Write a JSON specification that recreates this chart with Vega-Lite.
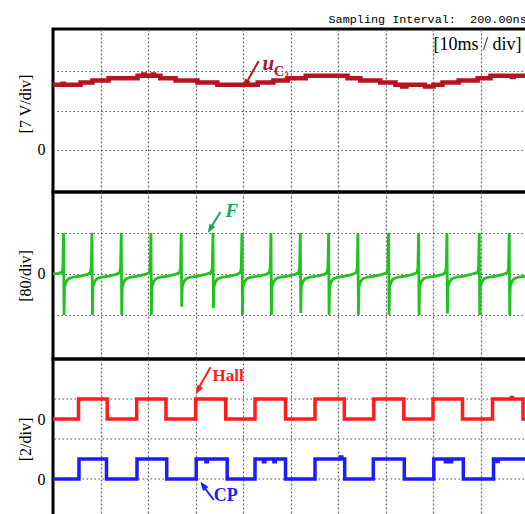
{
  "$schema": "https://vega.github.io/schema/vega-lite/v6.json",
  "padding": {"left": 15, "top": 12, "right": 0, "bottom": 0},
  "background": "white",
  "spacing": 0,
  "bounds": "flush",
  "config": {
    "view": {"stroke": "black", "strokeWidth": 3},
    "font": "Liberation Serif",
    "axis": {
      "minExtent": 0,
      "labelFont": "Liberation Serif",
      "labelFontSize": 16,
      "labelColor": "black",
      "labelPadding": 8,
      "ticks": false,
      "domain": false,
      "titleFont": "Liberation Serif",
      "titleFontSize": 16,
      "titleFontWeight": "normal",
      "titleColor": "black",
      "titlePadding": 4,
      "gridColor": "#555",
      "gridWidth": 1.2,
      "gridDash": [1.5, 2.5]
    }
  },
  "datasets": {
    "uc2": [
      {"t": 0, "v": 11.57}, {"t": 2.0, "v": 11.75}, {"t": 2.3, "v": 11.57},
      {"t": 5.8, "v": 11.98}, {"t": 8.3, "v": 12.33}, {"t": 11.7, "v": 12.76},
      {"t": 17.8, "v": 13.17}, {"t": 19.0, "v": 13.42}, {"t": 19.3, "v": 13.17},
      {"t": 21.0, "v": 13.4}, {"t": 21.3, "v": 13.17}, {"t": 22.6, "v": 12.76},
      {"t": 25.8, "v": 12.33}, {"t": 30.4, "v": 11.98}, {"t": 34.6, "v": 11.57},
      {"t": 43.1, "v": 11.98}, {"t": 46.4, "v": 12.33}, {"t": 49.4, "v": 12.76},
      {"t": 53.2, "v": 13.17}, {"t": 62.0, "v": 12.76}, {"t": 64.7, "v": 12.33},
      {"t": 68.9, "v": 11.98}, {"t": 72.1, "v": 11.57}, {"t": 73.5, "v": 11.27},
      {"t": 74.4, "v": 11.57}, {"t": 78.3, "v": 11.27}, {"t": 80.1, "v": 11.57},
      {"t": 82.0, "v": 11.98}, {"t": 85.4, "v": 12.33}, {"t": 89.4, "v": 12.76},
      {"t": 92.1, "v": 13.17}, {"t": 96.6, "v": 12.95}, {"t": 97.0, "v": 13.17},
      {"t": 100, "v": 13.17}
    ],
    "force": [
      {"t": 0, "v": 0}, {"t": 1.2, "v": 1},
      {"t": 1.87, "v": 3}, {"t": 2.07, "v": 12}, {"t": 2.22, "v": 80}, {"t": 2.32, "v": -80}, {"t": 2.42, "v": -25}, {"t": 2.77, "v": -15}, {"t": 3.27, "v": -9}, {"t": 4.27, "v": -6}, {"t": 5.77, "v": -4}, {"t": 7.27, "v": -1},
      {"t": 7.85, "v": 3}, {"t": 8.05, "v": 12}, {"t": 8.20, "v": 80}, {"t": 8.30, "v": -80}, {"t": 8.40, "v": -25}, {"t": 8.75, "v": -15}, {"t": 9.25, "v": -9}, {"t": 10.25, "v": -6}, {"t": 11.75, "v": -4}, {"t": 13.25, "v": -1},
      {"t": 14.02, "v": 3}, {"t": 14.22, "v": 12}, {"t": 14.37, "v": 80}, {"t": 14.47, "v": -80}, {"t": 14.57, "v": -25}, {"t": 14.92, "v": -15}, {"t": 15.42, "v": -9}, {"t": 16.42, "v": -6}, {"t": 17.92, "v": -4}, {"t": 19.42, "v": -1},
      {"t": 20.27, "v": 3}, {"t": 20.47, "v": 12}, {"t": 20.62, "v": 80}, {"t": 20.72, "v": -80}, {"t": 20.82, "v": -25}, {"t": 21.17, "v": -15}, {"t": 21.67, "v": -9}, {"t": 22.67, "v": -6}, {"t": 24.17, "v": -4}, {"t": 25.67, "v": -1},
      {"t": 26.65, "v": 3}, {"t": 26.85, "v": 12}, {"t": 27.00, "v": 80}, {"t": 27.10, "v": -64}, {"t": 27.20, "v": -25}, {"t": 27.55, "v": -15}, {"t": 28.05, "v": -9}, {"t": 29.05, "v": -6}, {"t": 30.55, "v": -4}, {"t": 32.05, "v": -1},
      {"t": 33.33, "v": 3}, {"t": 33.53, "v": 12}, {"t": 33.68, "v": 80}, {"t": 33.78, "v": -67}, {"t": 33.88, "v": -25}, {"t": 34.23, "v": -15}, {"t": 34.73, "v": -9}, {"t": 35.73, "v": -6}, {"t": 37.23, "v": -4}, {"t": 38.73, "v": -1},
      {"t": 39.43, "v": 3}, {"t": 39.63, "v": 12}, {"t": 39.78, "v": 80}, {"t": 39.88, "v": -80}, {"t": 39.98, "v": -25}, {"t": 40.33, "v": -15}, {"t": 40.83, "v": -9}, {"t": 41.83, "v": -6}, {"t": 43.33, "v": -4}, {"t": 44.83, "v": -1},
      {"t": 45.54, "v": 3}, {"t": 45.74, "v": 12}, {"t": 45.89, "v": 80}, {"t": 45.99, "v": -80}, {"t": 46.09, "v": -25}, {"t": 46.44, "v": -15}, {"t": 46.94, "v": -9}, {"t": 47.94, "v": -6}, {"t": 49.44, "v": -4}, {"t": 50.94, "v": -1},
      {"t": 51.71, "v": 3}, {"t": 51.91, "v": 12}, {"t": 52.06, "v": 80}, {"t": 52.16, "v": -76}, {"t": 52.26, "v": -25}, {"t": 52.61, "v": -15}, {"t": 53.11, "v": -9}, {"t": 54.11, "v": -6}, {"t": 55.61, "v": -4}, {"t": 57.11, "v": -1},
      {"t": 57.67, "v": 3}, {"t": 57.87, "v": 12}, {"t": 58.02, "v": 80}, {"t": 58.12, "v": -80}, {"t": 58.22, "v": -25}, {"t": 58.57, "v": -15}, {"t": 59.07, "v": -9}, {"t": 60.07, "v": -6}, {"t": 61.57, "v": -4}, {"t": 63.07, "v": -1},
      {"t": 63.85, "v": 3}, {"t": 64.05, "v": 12}, {"t": 64.20, "v": 80}, {"t": 64.30, "v": -80}, {"t": 64.40, "v": -25}, {"t": 64.75, "v": -15}, {"t": 65.25, "v": -9}, {"t": 66.25, "v": -6}, {"t": 67.75, "v": -4}, {"t": 69.25, "v": -1},
      {"t": 70.30, "v": 3}, {"t": 70.50, "v": 12}, {"t": 70.65, "v": 80}, {"t": 70.75, "v": -80}, {"t": 70.85, "v": -25}, {"t": 71.20, "v": -15}, {"t": 71.70, "v": -9}, {"t": 72.70, "v": -6}, {"t": 74.20, "v": -4}, {"t": 75.70, "v": -1},
      {"t": 76.62, "v": 3}, {"t": 76.82, "v": 12}, {"t": 76.97, "v": 80}, {"t": 77.07, "v": -80}, {"t": 77.17, "v": -25}, {"t": 77.52, "v": -15}, {"t": 78.02, "v": -9}, {"t": 79.02, "v": -6}, {"t": 80.52, "v": -4}, {"t": 82.02, "v": -1},
      {"t": 82.59, "v": 3}, {"t": 82.79, "v": 12}, {"t": 82.94, "v": 80}, {"t": 83.04, "v": -77}, {"t": 83.14, "v": -25}, {"t": 83.49, "v": -15}, {"t": 83.99, "v": -9}, {"t": 84.99, "v": -6}, {"t": 86.49, "v": -4}, {"t": 87.99, "v": -1},
      {"t": 89.39, "v": 3}, {"t": 89.59, "v": 12}, {"t": 89.74, "v": 80}, {"t": 89.84, "v": -80}, {"t": 89.94, "v": -25}, {"t": 90.29, "v": -15}, {"t": 90.79, "v": -9}, {"t": 91.79, "v": -6}, {"t": 93.29, "v": -4}, {"t": 94.79, "v": -1},
      {"t": 95.70, "v": 3}, {"t": 95.90, "v": 12}, {"t": 96.05, "v": 80}, {"t": 96.15, "v": -80}, {"t": 96.25, "v": -25}, {"t": 96.60, "v": -15}, {"t": 97.10, "v": -9}, {"t": 98.10, "v": -6}, {"t": 99.60, "v": -4}, {"t": 100, "v": -3}
    ],
    "hall": [
      {"t": 0, "v": 0}, {"t": 5.37, "v": 1}, {"t": 11.41, "v": 0}, {"t": 17.62, "v": 1},
      {"t": 23.79, "v": 0}, {"t": 30.04, "v": 1}, {"t": 36.36, "v": 0}, {"t": 42.53, "v": 1},
      {"t": 48.95, "v": 0}, {"t": 55.16, "v": 1}, {"t": 61.33, "v": 0}, {"t": 67.54, "v": 1},
      {"t": 73.85, "v": 0}, {"t": 80.0, "v": 1}, {"t": 86.21, "v": 0}, {"t": 92.53, "v": 1},
      {"t": 96.5, "v": 1.08}, {"t": 96.7, "v": 1}, {"t": 98.95, "v": 0}, {"t": 100, "v": 0}
    ],
    "cp": [
      {"t": 0, "v": 0}, {"t": 5.47, "v": 1}, {"t": 11.26, "v": 0}, {"t": 17.68, "v": 1},
      {"t": 23.94, "v": 0}, {"t": 30.15, "v": 1}, {"t": 32.2, "v": 0.86}, {"t": 32.5, "v": 1},
      {"t": 36.67, "v": 0}, {"t": 42.53, "v": 1}, {"t": 44.3, "v": 0.86}, {"t": 44.6, "v": 1},
      {"t": 46.5, "v": 0.86}, {"t": 46.8, "v": 1}, {"t": 48.95, "v": 0}, {"t": 55.16, "v": 1},
      {"t": 60.6, "v": 1.1}, {"t": 60.8, "v": 1}, {"t": 61.41, "v": 0}, {"t": 67.43, "v": 1},
      {"t": 73.96, "v": 0}, {"t": 80.17, "v": 1}, {"t": 82.6, "v": 0.86}, {"t": 82.9, "v": 1},
      {"t": 83.6, "v": 0.86}, {"t": 83.9, "v": 1}, {"t": 86.38, "v": 0}, {"t": 92.74, "v": 1},
      {"t": 93.5, "v": 0.88}, {"t": 93.7, "v": 1}, {"t": 100, "v": 1}
    ]
  },
  "vconcat": [
    {
      "width": 475,
      "height": 163,
      "title": {
        "text": "Sampling Interval:\u00a0\u00a0200.00ns",
        "anchor": "start",
        "frame": "group",
        "dx": 275.5,
        "offset": -6,
        "baseline": "alphabetic",
        "font": "Liberation Mono",
        "fontSize": 11.8,
        "fontWeight": "normal",
        "color": "black"
      },
      "encoding": {
        "x": {
          "field": "t", "type": "quantitative",
          "scale": {"domain": [0, 100], "nice": false, "zero": false},
          "axis": {"values": [10, 20, 30, 40, 50, 60, 70, 80, 90], "labels": false, "title": null, "grid": true, "gridDash": [2, 2], "gridColor": "#666"}
        }
      },
      "layer": [
        {
          "data": {"name": "uc2"},
          "mark": {"type": "line", "interpolate": "step-after", "color": "#b5151f", "strokeWidth": 4.5},
          "encoding": {
            "y": {
              "field": "v", "type": "quantitative",
              "scale": {"domain": [-7.5, 21.5], "nice": false, "zero": false},
              "axis": {"values": [0, 7, 14], "labelExpr": "datum.value === 0 ? '0' : ''", "grid": true, "title": "[7 V/div]", "titleY": 74.5}
            }
          }
        },
        {
          "data": {"values": [{"t": 43.3, "v": 15.8, "t2": 40.3, "v2": 11.3}]},
          "mark": {"type": "rule", "color": "#b5151f", "strokeWidth": 2},
          "encoding": {"y": {"field": "v", "type": "quantitative"}, "x2": {"field": "t2"}, "y2": {"field": "v2"}}
        },
        {
          "data": {"values": [{"t": 40.1, "v": 11.0}]},
          "mark": {"type": "point", "shape": "M0,0L-1.1,3L1.1,3Z", "size": 36, "angle": 208, "filled": true, "opacity": 1, "color": "#b5151f"},
          "encoding": {"y": {"field": "v", "type": "quantitative"}}
        },
        {
          "data": {"values": [{"t": 44.1, "v": 14.2, "label": "u"}]},
          "mark": {"type": "text", "align": "left", "baseline": "alphabetic", "font": "Liberation Serif", "fontSize": 21, "fontStyle": "italic", "fontWeight": "bold", "color": "#b5151f"},
          "encoding": {"y": {"field": "v", "type": "quantitative"}, "text": {"field": "label"}}
        },
        {
          "data": {"values": [{"t": 46.5, "v": 13.14, "label": "C"}]},
          "mark": {"type": "text", "align": "left", "baseline": "alphabetic", "font": "Liberation Serif", "fontSize": 14, "fontWeight": "bold", "color": "#b5151f"},
          "encoding": {"y": {"field": "v", "type": "quantitative"}, "text": {"field": "label"}}
        },
        {
          "data": {"values": [{"t": 48.7, "v": 12.78, "label": "2"}]},
          "mark": {"type": "text", "align": "left", "baseline": "alphabetic", "font": "Liberation Serif", "fontSize": 9, "fontWeight": "bold", "color": "#b5151f"},
          "encoding": {"y": {"field": "v", "type": "quantitative"}, "text": {"field": "label"}}
        },
        {
          "data": {"values": [{"t": 80.1, "v": 17.76, "label": "[10ms / div]"}]},
          "mark": {"type": "text", "align": "left", "baseline": "alphabetic", "font": "Liberation Serif", "fontSize": 18, "color": "black"},
          "encoding": {"y": {"field": "v", "type": "quantitative"}, "text": {"field": "label"}}
        }
      ]
    },
    {
      "width": 475,
      "height": 167,
      "encoding": {
        "x": {
          "field": "t", "type": "quantitative",
          "scale": {"domain": [0, 100], "nice": false, "zero": false},
          "axis": {"values": [10, 20, 30, 40, 50, 60, 70, 80, 90], "labels": false, "title": null, "grid": true, "gridDash": [2, 2], "gridColor": "#666"}
        }
      },
      "layer": [
        {
          "data": {"name": "force"},
          "mark": {"type": "line", "color": "#1ec41e", "strokeWidth": 2.8},
          "encoding": {
            "y": {
              "field": "v", "type": "quantitative",
              "scale": {"domain": [-166, 160], "nice": false, "zero": false},
              "axis": {"values": [-80, 0, 80], "labelExpr": "datum.value === 0 ? '0' : ''", "grid": true, "title": "[80/div]"}
            }
          }
        },
        {
          "data": {"values": [{"t": 35.26, "v": 121, "t2": 32.8, "v2": 84}]},
          "mark": {"type": "rule", "color": "#16a85a", "strokeWidth": 2},
          "encoding": {"y": {"field": "v", "type": "quantitative"}, "x2": {"field": "t2"}, "y2": {"field": "v2"}}
        },
        {
          "data": {"values": [{"t": 32.59, "v": 80}]},
          "mark": {"type": "point", "shape": "M0,0L-1.1,3L1.1,3Z", "size": 36, "angle": 211, "filled": true, "opacity": 1, "color": "#16a85a"},
          "encoding": {"y": {"field": "v", "type": "quantitative"}}
        },
        {
          "data": {"values": [{"t": 36.3, "v": 111, "label": "F"}]},
          "mark": {"type": "text", "align": "left", "baseline": "alphabetic", "font": "Liberation Serif", "fontSize": 19, "fontStyle": "italic", "fontWeight": "bold", "color": "#16a85a"},
          "encoding": {"y": {"field": "v", "type": "quantitative"}, "text": {"field": "label"}}
        }
      ]
    },
    {
      "width": 475,
      "height": 160,
      "resolve": {"scale": {"y": "independent"}},
      "encoding": {
        "x": {
          "field": "t", "type": "quantitative",
          "scale": {"domain": [0, 100], "nice": false, "zero": false},
          "axis": {"values": [10, 20, 30, 40, 50, 60, 70, 80, 90], "labels": false, "title": null, "grid": true, "gridDash": [2, 2], "gridColor": "#666"}
        }
      },
      "layer": [
        {
          "data": {"values": [{"v": 0}, {"v": 2}, {"v": 4}]},
          "mark": {"type": "rule", "color": "#555", "strokeWidth": 1.2, "strokeDash": [1.5, 2.5]},
          "encoding": {
            "x": null,
            "y": {"field": "v", "type": "quantitative", "scale": {"domain": [-2, 6], "nice": false, "zero": false}, "axis": null}
          }
        },
        {
          "data": {"name": "hall"},
          "mark": {"type": "line", "interpolate": "step-after", "color": "#ff1c1c", "strokeWidth": 3.5},
          "encoding": {
            "y": {"field": "v", "type": "quantitative", "scale": {"domain": [-5, 3], "nice": false, "zero": false}, "axis": null}
          }
        },
        {
          "data": {"name": "cp"},
          "mark": {"type": "line", "interpolate": "step-after", "color": "#1c1cff", "strokeWidth": 3.5},
          "encoding": {
            "y": {
              "field": "v", "type": "quantitative",
              "scale": {"domain": [-2, 6], "nice": false, "zero": false},
              "axis": {"orient": "left", "values": [0, 3], "labelExpr": "'0'", "grid": false, "title": "[2/div]"}
            }
          }
        },
        {
          "data": {"values": [{"t": 33.16, "v": 2.585, "t2": 30.3, "v2": 1.4}]},
          "mark": {"type": "rule", "color": "#ff1c1c", "strokeWidth": 2},
          "encoding": {
            "y": {"field": "v", "type": "quantitative", "scale": {"domain": [-5, 3], "nice": false, "zero": false}, "axis": null},
            "x2": {"field": "t2"}, "y2": {"field": "v2"}
          }
        },
        {
          "data": {"values": [{"t": 30.06, "v": 1.235}]},
          "mark": {"type": "point", "shape": "M0,0L-1.1,3L1.1,3Z", "size": 36, "angle": 209, "filled": true, "opacity": 1, "color": "#ff1c1c"},
          "encoding": {
            "y": {"field": "v", "type": "quantitative", "scale": {"domain": [-5, 3], "nice": false, "zero": false}, "axis": null}
          }
        },
        {
          "data": {"values": [{"t": 33.6, "v": 1.9, "label": "Hall"}]},
          "mark": {"type": "text", "align": "left", "baseline": "alphabetic", "font": "Liberation Serif", "fontSize": 17, "fontWeight": "bold", "color": "#ff1c1c"},
          "encoding": {
            "y": {"field": "v", "type": "quantitative", "scale": {"domain": [-5, 3], "nice": false, "zero": false}, "axis": null},
            "text": {"field": "label"}
          }
        },
        {
          "data": {"values": [{"t": 33.85, "v": -1.05, "t2": 31.3, "v2": -0.25}]},
          "mark": {"type": "rule", "color": "#1c1cff", "strokeWidth": 2},
          "encoding": {
            "y": {"field": "v", "type": "quantitative", "scale": {"domain": [-2, 6], "nice": false, "zero": false}, "axis": null},
            "x2": {"field": "t2"}, "y2": {"field": "v2"}
          }
        },
        {
          "data": {"values": [{"t": 31.05, "v": -0.135}]},
          "mark": {"type": "point", "shape": "M0,0L-1.1,3L1.1,3Z", "size": 36, "angle": 324, "filled": true, "opacity": 1, "color": "#1c1cff"},
          "encoding": {
            "y": {"field": "v", "type": "quantitative", "scale": {"domain": [-2, 6], "nice": false, "zero": false}, "axis": null}
          }
        },
        {
          "data": {"values": [{"t": 33.85, "v": -1.1, "label": "CP"}]},
          "mark": {"type": "text", "align": "left", "baseline": "alphabetic", "font": "Liberation Serif", "fontSize": 18, "fontWeight": "bold", "color": "#1c1cff"},
          "encoding": {
            "y": {"field": "v", "type": "quantitative", "scale": {"domain": [-2, 6], "nice": false, "zero": false}, "axis": null},
            "text": {"field": "label"}
          }
        }
      ]
    }
  ]
}
